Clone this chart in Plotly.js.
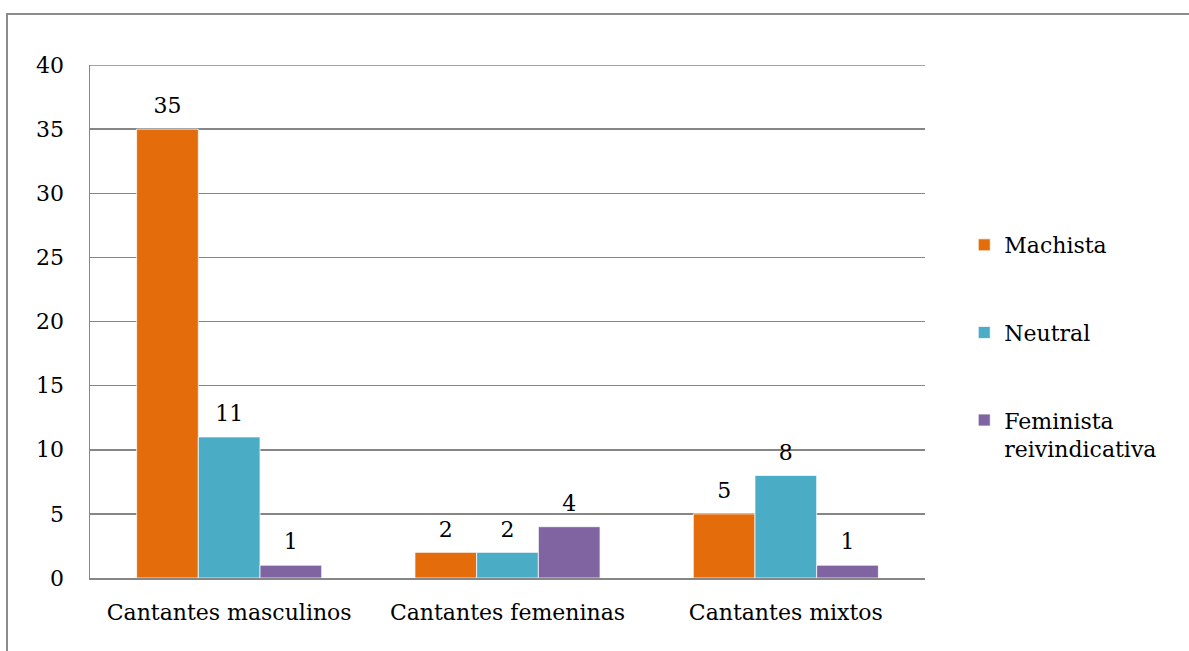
<!DOCTYPE html>
<html>
<head>
<meta charset="utf-8">
<script src="https://cdn.plot.ly/plotly-3.0.1.min.js"></script>
<style>
  html, body { margin: 0; padding: 0; background: #fff; overflow: hidden; }
  #chart { width: 1189px; height: 651px; }
  #frame { position: absolute; left: 6px; top: 13px; width: 1300px; height: 800px;
           border: 2px solid #8c8c8c; pointer-events: none; box-sizing: border-box; }
</style>
</head>
<body>
<div id="chart"></div>
<div id="frame"></div>
<script>
const categories = ["Cantantes masculinos", "Cantantes femeninas", "Cantantes mixtos"];
const seriesNames = ["Machista", "Neutral", "Feminista<br>reivindicativa"];
const machista = [35, 2, 5];
const neutral = [11, 2, 8];
const feminista = [1, 4, 1];
const colors = ["#E46C0A", "#4BACC6", "#8064A2"];
const yTicks = [0, 5, 10, 15, 20, 25, 30, 35, 40];

const FONT = "DejaVu Serif";
const LABEL_PAD = 0.6; // gap (in axis units) between bar top and its value label
const seriesValues = [machista, neutral, feminista];

const traces = [];
seriesValues.forEach((vals, i) => {
  traces.push({
    type: "bar",
    name: seriesNames[i],
    x: categories,
    y: vals,
    offsetgroup: "s" + i,
    marker: { color: colors[i], line: { color: "#ffffff", width: 0.75 } },
    legendgroup: "g" + i,
    hoverinfo: "x+y+name"
  });
});
// invisible spacer bars sitting on top of each bar, carrying the value labels
seriesValues.forEach((vals, i) => {
  traces.push({
    type: "bar",
    x: categories,
    base: vals,
    y: vals.map(() => LABEL_PAD),
    offsetgroup: "s" + i,
    text: vals.map(String),
    textposition: "outside",
    textfont: { family: FONT, size: 22, color: "#000" },
    cliponaxis: false,
    marker: { color: "rgba(0,0,0,0)", line: { width: 0 } },
    showlegend: false,
    legendgroup: "g" + i,
    hoverinfo: "skip"
  });
});

const layout = {
  width: 1189,
  height: 651,
  margin: { l: 90, r: 264, t: 65, b: 73 },
  paper_bgcolor: "#ffffff",
  plot_bgcolor: "#ffffff",
  font: { family: FONT, size: 22, color: "#000" },
  barmode: "group",
  bargap: 0.335,
  bargroupgap: 0,
  showlegend: true,
  legend: {
    x: 1.047, xanchor: "left",
    y: 0.69, yanchor: "top",
    font: { family: FONT, size: 22, color: "#000" },
    tracegroupgap: 56,
    valign: "top",
    traceorder: "grouped",
    bgcolor: "rgba(0,0,0,0)"
  },
  xaxis: {
    type: "category",
    showline: true,
    linecolor: "#868686",
    linewidth: 1.5,
    showgrid: false,
    ticks: "",
    ticklabelstandoff: 14,
    tickfont: { family: FONT, size: 22, color: "#000" },
    fixedrange: true
  },
  yaxis: {
    range: [0, 40],
    tickvals: yTicks,
    ticktext: yTicks.map(String),
    showline: true,
    linecolor: "#868686",
    linewidth: 1.5,
    showgrid: true,
    gridcolor: "#868686",
    gridwidth: 1.5,
    zeroline: false,
    ticks: "",
    ticklabelstandoff: 20,
    tickfont: { family: FONT, size: 22, color: "#000" },
    fixedrange: true
  },
  shapes: [{
    type: "line", xref: "paper", yref: "y",
    x0: 0, x1: 1, y0: yTicks[yTicks.length - 1], y1: yTicks[yTicks.length - 1],
    line: { color: "#868686", width: 1.5 }, layer: "below"
  }]
};

Plotly.newPlot("chart", traces, layout, { displayModeBar: false, staticPlot: true });
</script>
</body>
</html>
